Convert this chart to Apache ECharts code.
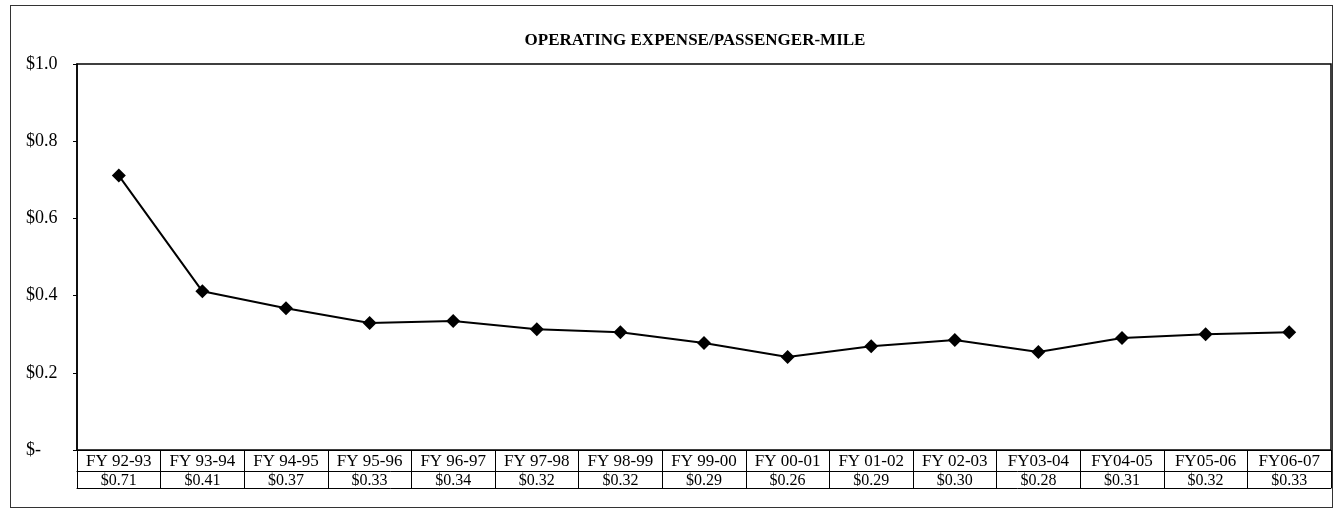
<!DOCTYPE html>
<html>
<head>
<meta charset="utf-8">
<script src="https://cdn.jsdelivr.net/npm/echarts@6/dist/echarts.min.js"></script>
<style>
  html, body { margin: 0; padding: 0; background: #fff; }
  #chart { width: 1336px; height: 516px; }
  #frame { position: absolute; left: 10px; top: 5px; width: 1321px; height: 501px; border: 1px solid #333; pointer-events: none; }
</style>
</head>
<body>
<div id="chart"></div>
<div id="frame"></div>
<script>
// categories (fiscal years)
const years = ['FY 92-93', 'FY 93-94', 'FY 94-95', 'FY 95-96', 'FY 96-97', 'FY 97-98', 'FY 98-99',
  'FY 99-00', 'FY 00-01', 'FY 01-02', 'FY 02-03', 'FY03-04', 'FY04-05', 'FY05-06', 'FY06-07'];
// values as plotted on the line
const expense = [0.711, 0.411, 0.367, 0.329, 0.334, 0.313, 0.305, 0.277, 0.241, 0.269, 0.285, 0.254, 0.29, 0.30, 0.305];
// values printed in the data table
const tableValues = ['$0.71', '$0.41', '$0.37', '$0.33', '$0.34', '$0.32', '$0.32', '$0.29', '$0.26',
  '$0.29', '$0.30', '$0.28', '$0.31', '$0.32', '$0.33'];

const font = '"Liberation Serif", "Times New Roman", serif';

const chart = echarts.init(document.getElementById('chart'));

const option = {
  animation: false,
  title: {
    text: 'OPERATING EXPENSE/PASSENGER-MILE',
    left: 690,
    textAlign: 'center',
    top: 27,
    textStyle: { fontFamily: font, fontSize: 17, fontWeight: 'bold', color: '#000' }
  },
  grid: {
    left: 77,
    right: 5,
    top: 64,
    bottom: 66,
    show: true,
    borderColor: '#000',
    borderWidth: 1.5
  },
  xAxis: [
    {
      type: 'category',
      data: years,
      boundaryGap: true,
      axisLine: { lineStyle: { color: '#000', width: 1 } },
      axisTick: { show: true, length: 38, lineStyle: { color: '#000', width: 1 } },
      axisLabel: { margin: 3, interval: 0, fontFamily: font, fontSize: 17, color: '#000' },
      splitLine: { show: false }
    },
    {
      type: 'category',
      data: tableValues,
      position: 'bottom',
      offset: 21,
      boundaryGap: true,
      axisLine: { lineStyle: { color: '#000', width: 1 } },
      axisTick: { show: false },
      axisLabel: { margin: 2, interval: 0, fontFamily: font, fontSize: 16, color: '#000' }
    },
    {
      type: 'category',
      data: years,
      position: 'bottom',
      offset: 38,
      axisLine: { lineStyle: { color: '#000', width: 1 } },
      axisTick: { show: false },
      axisLabel: { show: false }
    }
  ],
  yAxis: {
    type: 'value',
    min: 0,
    max: 1,
    interval: 0.2,
    axisLine: { show: true, lineStyle: { color: '#000', width: 1.5 } },
    axisTick: { show: true, length: 4, lineStyle: { color: '#000' } },
    splitLine: { show: false },
    axisLabel: {
      align: 'left',
      margin: 51,
      fontFamily: font,
      fontSize: 18,
      color: '#000',
      formatter: v => (v === 0 ? '$-' : '$' + v.toFixed(1))
    }
  },
  series: [
    {
      type: 'line',
      data: expense,
      symbol: 'diamond',
      symbolSize: 14,
      lineStyle: { color: '#000', width: 2 },
      itemStyle: { color: '#000' }
    }
  ]
};

chart.setOption(option);
</script>
</body>
</html>
